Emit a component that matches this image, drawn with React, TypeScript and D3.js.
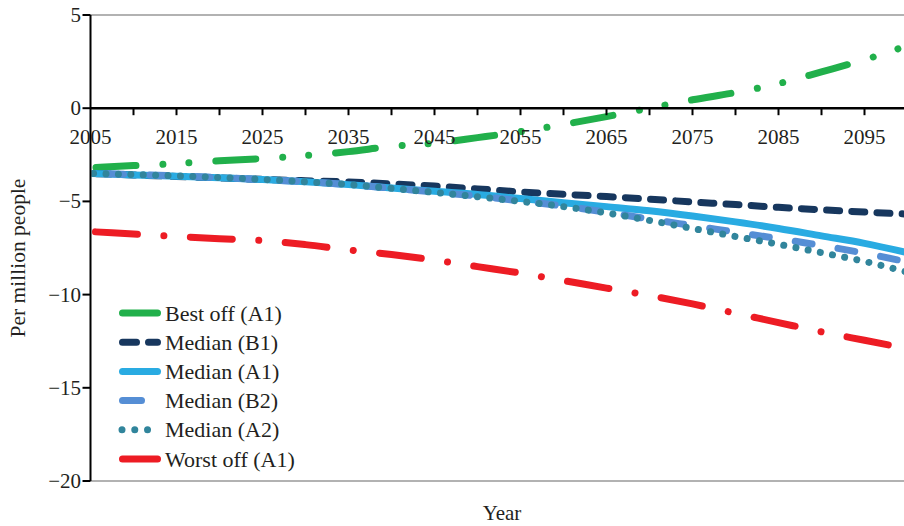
import React from 'react';
import * as d3 from 'd3';

const years = [2005, 2010, 2015, 2020, 2025, 2030, 2035, 2040, 2045, 2050, 2055, 2060, 2065, 2070, 2075, 2080, 2085, 2090, 2095, 2100];

const bestOffA1 = [-3.2, -3.08, -2.97, -2.82, -2.7, -2.54, -2.33, -2.05, -1.88, -1.58, -1.26, -0.87, -0.45, 0.0, 0.45, 0.84, 1.32, 1.95, 2.6, 3.36];
const medianB1 = [-3.5, -3.58, -3.66, -3.74, -3.82, -3.89, -3.96, -4.06, -4.18, -4.33, -4.49, -4.62, -4.74, -4.88, -5.03, -5.17, -5.32, -5.45, -5.57, -5.68];
const medianA1 = [-3.5, -3.58, -3.65, -3.73, -3.83, -3.95, -4.1, -4.28, -4.46, -4.63, -4.85, -5.07, -5.28, -5.5, -5.78, -6.1, -6.45, -6.85, -7.25, -7.75];
const medianB2 = [-3.5, -3.56, -3.63, -3.72, -3.83, -3.95, -4.1, -4.3, -4.5, -4.72, -4.97, -5.25, -5.58, -5.95, -6.3, -6.65, -7.0, -7.37, -7.78, -8.25];
const medianA2 = [-3.5, -3.56, -3.63, -3.72, -3.82, -3.95, -4.1, -4.3, -4.52, -4.75, -5.0, -5.28, -5.62, -6.02, -6.45, -6.88, -7.3, -7.75, -8.22, -8.8];
const worstOffA1 = [-6.62, -6.75, -6.88, -7.0, -7.1, -7.32, -7.6, -7.85, -8.15, -8.5, -8.85, -9.25, -9.65, -10.05, -10.5, -11.0, -11.5, -12.0, -12.45, -12.9];

const seriesNames = ['Best off (A1)', 'Median (B1)', 'Median (A1)', 'Median (B2)', 'Median (A2)', 'Worst off (A1)'];
const seriesValues = [bestOffA1, medianB1, medianA1, medianB2, medianA2, worstOffA1];

const yTicks = [5, 0, -5, -10, -15, -20];
const xMinorTicks = [2010, 2015, 2020, 2025, 2030, 2035, 2040, 2045, 2050, 2055, 2060, 2065, 2070, 2075, 2080, 2085, 2090, 2095, 2100];
const xLabels = [2005, 2015, 2025, 2035, 2045, 2055, 2065, 2075, 2085, 2095];

const styles = [
  { color: '#21b04b', dash: '40 27 0.01 26 0.01 27', offset: -5.5, legendDash: null, x1: 122.5, x2: 157.5 },
  { color: '#17375e', dash: '13 12.2', offset: -6.3, legendDash: '14 12', x1: 122.5, x2: 157.5 },
  { color: '#29abe2', dash: null, offset: 0, legendDash: null, x1: 122.5, x2: 157.5 },
  { color: '#558ed5', dash: '17 26.3', offset: -16, legendDash: null, x1: 122.5, x2: 141.5 },
  { color: '#31859c', dash: '0.01 12.4', offset: -3.1, legendDash: '0.01 12.75', x1: 122, x2: 148 },
  { color: '#ed1c24', dash: '42 26.5 0.01 26.5', offset: -5, legendDash: null, x1: 122.5, x2: 157.5 },
];

const W = 904;
const H = 526;
const left = 90.5;
const top = 15;
const bottom = 481;
const FONT = '"Liberation Serif", "Times New Roman", Times, serif';

export default function App() {
  const x = d3.scaleLinear().domain([2005, 2100]).range([left, 907.5]);
  const y = d3.scaleLinear().domain([-20, 5]).range([bottom, top]);
  const line = d3
    .line<number>()
    .x((_, i) => x(years[i]))
    .y((d) => y(d))
    .curve(d3.curveMonotoneX);

  const legendY0 = 313;
  const legendStep = 29.2;

  return (
    <svg
      width={W}
      height={H}
      style={{ position: 'absolute', left: 0, top: 0, background: '#fff' }}
      fontFamily={FONT}
    >
      <defs>
        <clipPath id="plot">
          <rect x={left + 1} y={0} width={W - left} height={H} />
        </clipPath>
      </defs>
      {/* frame lines */}
      <line x1={left} x2={W} y1={top} y2={top} stroke="#999" strokeWidth={1.5} />
      <line x1={left} x2={W} y1={bottom} y2={bottom} stroke="#999" strokeWidth={1.5} />

      {/* series */}
      <g clipPath="url(#plot)">
        {seriesValues.map((vals, i) => (
          <path
            key={seriesNames[i]}
            d={line(vals) || ''}
            fill="none"
            stroke={styles[i].color}
            strokeWidth={7}
            strokeLinecap="round"
            strokeLinejoin="round"
            strokeDasharray={styles[i].dash || undefined}
            strokeDashoffset={styles[i].offset}
          />
        ))}
      </g>

      {/* zero axis */}
      <line x1={left} x2={W} y1={y(0)} y2={y(0)} stroke="#000" strokeWidth={2.5} />
      {xMinorTicks.map((t) => (
        <line key={t} x1={x(t)} x2={x(t)} y1={y(0)} y2={y(0) + 7} stroke="#000" strokeWidth={2} />
      ))}
      {xLabels.map((t) => (
        <text key={t} x={x(t)} y={y(0) + 35.5} textAnchor="middle" fontSize={21} fill="#231f20">
          {t}
        </text>
      ))}

      {/* y axis */}
      <line x1={left} x2={left} y1={top} y2={bottom} stroke="#000" strokeWidth={2} />
      {yTicks.map((t) => (
        <g key={t}>
          <line x1={left - 8} x2={left} y1={y(t)} y2={y(t)} stroke="#000" strokeWidth={2} />
          <text x={81} y={y(t) + 7} textAnchor="end" fontSize={21} fill="#231f20">
            {t < 0 ? '\u2212' + Math.abs(t) : String(t)}
          </text>
        </g>
      ))}

      {/* axis titles */}
      <text
        transform={`translate(25,258) rotate(-90)`}
        textAnchor="middle"
        fontSize={21.5}
        fill="#231f20"
      >
        Per million people
      </text>
      <text x={502} y={520} textAnchor="middle" fontSize={21} fill="#231f20">
        Year
      </text>

      {/* legend */}
      {seriesNames.map((name, i) => {
        const ly = legendY0 + i * legendStep;
        const s = styles[i];
        return (
          <g key={name}>
            <line
              x1={s.x1}
              x2={s.x2}
              y1={ly}
              y2={ly}
              stroke={s.color}
              strokeWidth={7}
              strokeLinecap="round"
              strokeDasharray={s.legendDash || undefined}
            />
            <text x={165} y={ly + 7.5} fontSize={22} fill="#231f20">
              {name}
            </text>
          </g>
        );
      })}
    </svg>
  );
}
